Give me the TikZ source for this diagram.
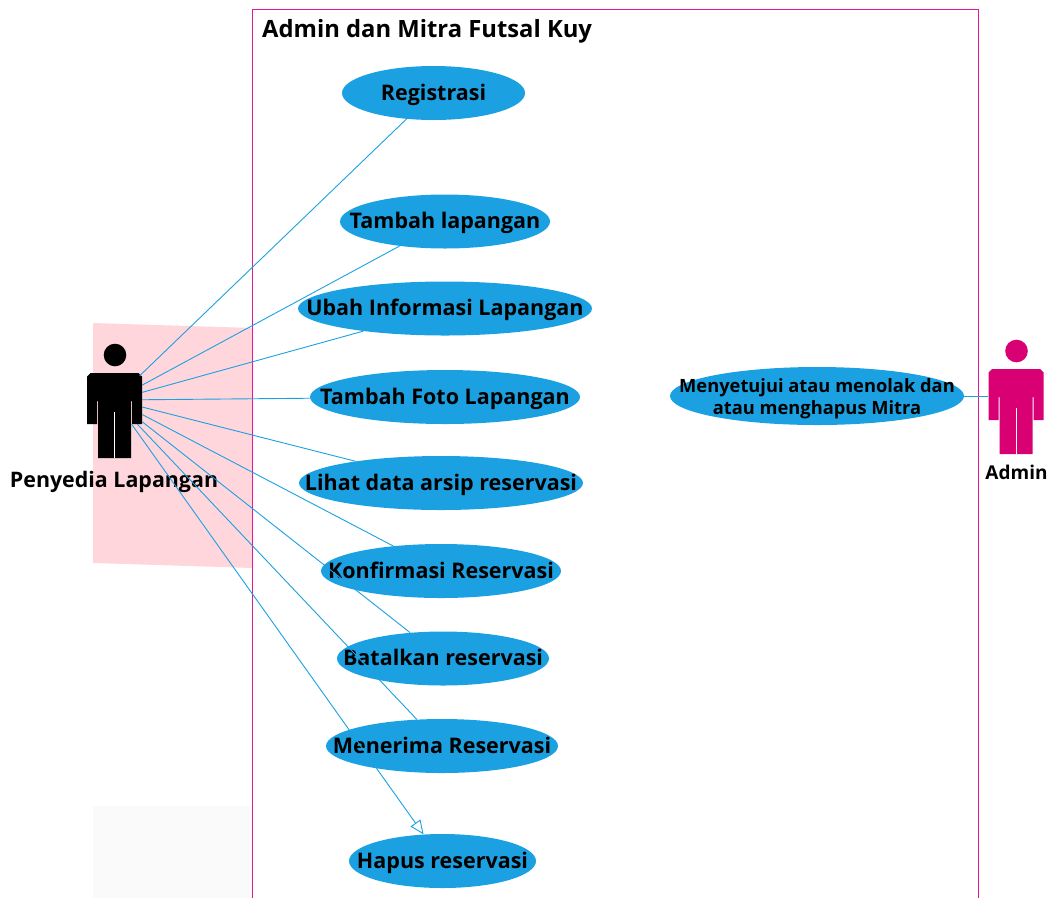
\documentclass[tikz,border=0pt]{standalone}
\usepackage{fontspec}
\setmainfont{Open Sans}
\usetikzlibrary{arrows.meta,shapes.geometric}

\definecolor{ucblue}{HTML}{1BA1E2}
\definecolor{actorpink}{HTML}{D80073}
\definecolor{framepink}{HTML}{E3189A}
\definecolor{shadepink}{HTML}{FFD6DB}
\definecolor{shadegrey}{HTML}{FAFAFA}

\tikzset{
    usecase/.style={ellipse,fill=ucblue,inner sep=0pt,
                    font=\fontsize{21.5}{24}\selectfont\bfseries},
    actorbox/.style={rectangle,inner sep=0pt,minimum width=55,minimum height=48},
    actorlabel/.style={font=\fontsize{21.4}{24}\selectfont\bfseries},
    link/.style={ucblue,line width=0.9pt},
}

% text that does not grow the ellipse
\newcommand{\uctext}[1]{\smash{\makebox[0pt]{\raisebox{-7.5pt}{\begin{tabular}{@{}c@{}}#1\end{tabular}}}}}

% silhouette around a node: colour, node name
\newcommand{\actorfig}[2]{
    \begin{scope}[shift={(#2.center)}]
        \fill[#1] (0.5,-45) circle (11.3);
        \fill[#1] (-24,-27) -- (24,-27) -- (27.5,-23.5) -- (27.5,24) -- (17.5,24)
            -- (17.5,1) -- (16.5,1) -- (16.5,58) -- (-16.5,58) -- (-16.5,1)
            -- (-17.5,1) -- (-17.5,24) -- (-27.5,24) -- (-27.5,-23.5) -- cycle;
        \draw[white,line width=0.7pt] (0,11.5) -- (0,58);
    \end{scope}
}

\begin{document}
\begin{tikzpicture}[x=1pt,y=-1pt]
    \useasboundingbox (0,0) rectangle (1051,898);

    % Shaded patches
    \fill[shadepink] (93,323) -- (253,328) -- (253,568) -- (93,563) -- cycle;
    \fill[shadegrey] (93,806) rectangle (253,898);

    % System boundary
    \draw[framepink,line width=1pt] (252.5,898) |- (978,9.8) -- (978,898);
    \node[anchor=base west,font=\fontsize{23.8}{26}\selectfont\bfseries] (title) at (258.7,37) {Admin dan Mitra Futsal Kuy};

    % Use cases
    \node[usecase,minimum width=183,minimum height=54] (registrasi) at (433.5,93) {\uctext{Registrasi}};
    \node[usecase,minimum width=210,minimum height=54] (tambahlap) at (445,221.5) {\uctext{Tambah lapangan}};
    \node[usecase,minimum width=294,minimum height=54] (ubahinfo) at (445,308.5) {\uctext{Ubah Informasi Lapangan}};
    \node[usecase,minimum width=270,minimum height=54] (tambahfoto) at (445,397) {\uctext{Tambah Foto Lapangan}};
    \node[usecase,minimum width=284,minimum height=54] (lihatarsip) at (441,483) {\uctext{Lihat data arsip reservasi}};
    \node[usecase,minimum width=240,minimum height=54] (konfirmasi) at (441,571) {\uctext{Konfirmasi Reservasi}};
    \node[usecase,minimum width=212,minimum height=54] (batalkan) at (443,658.5) {\uctext{Batalkan reservasi}};
    \node[usecase,minimum width=232,minimum height=54] (menerima) at (442,746) {\uctext{Menerima Reservasi}};
    \node[usecase,minimum width=187,minimum height=54] (hapus) at (442.5,861) {\uctext{Hapus reservasi}};
    \node[usecase,minimum width=294,minimum height=58,font=\fontsize{18.3}{22}\selectfont\bfseries] (menyetujui) at (817,396) {\uctext{Menyetujui atau menolak dan\\atau menghapus Mitra}};

    % Actors
    \node[actorbox] (penyedia) at (114.5,400) {};
    \actorfig{black}{penyedia}
    \node[actorlabel,anchor=base] (penyedialabel) at (114,487) {Penyedia Lapangan};

    \node[actorbox] (admin) at (1016,396) {};
    \actorfig{actorpink}{admin}
    \node[actorlabel,anchor=base,font=\fontsize{19}{22}\selectfont\bfseries] (adminlabel) at (1016.5,479) {Admin};

    % Connectors
    \foreach \uc in {registrasi,tambahlap,ubahinfo,tambahfoto,lihatarsip,konfirmasi,batalkan,menerima}
        \draw[link] (penyedia) -- (\uc);
    \draw[link,-{Triangle[open,fill=white,length=14pt,width=12pt]}] (penyedia) -- (hapus);
    \draw[link] (menyetujui) -- (admin);
\end{tikzpicture}
\end{document}
